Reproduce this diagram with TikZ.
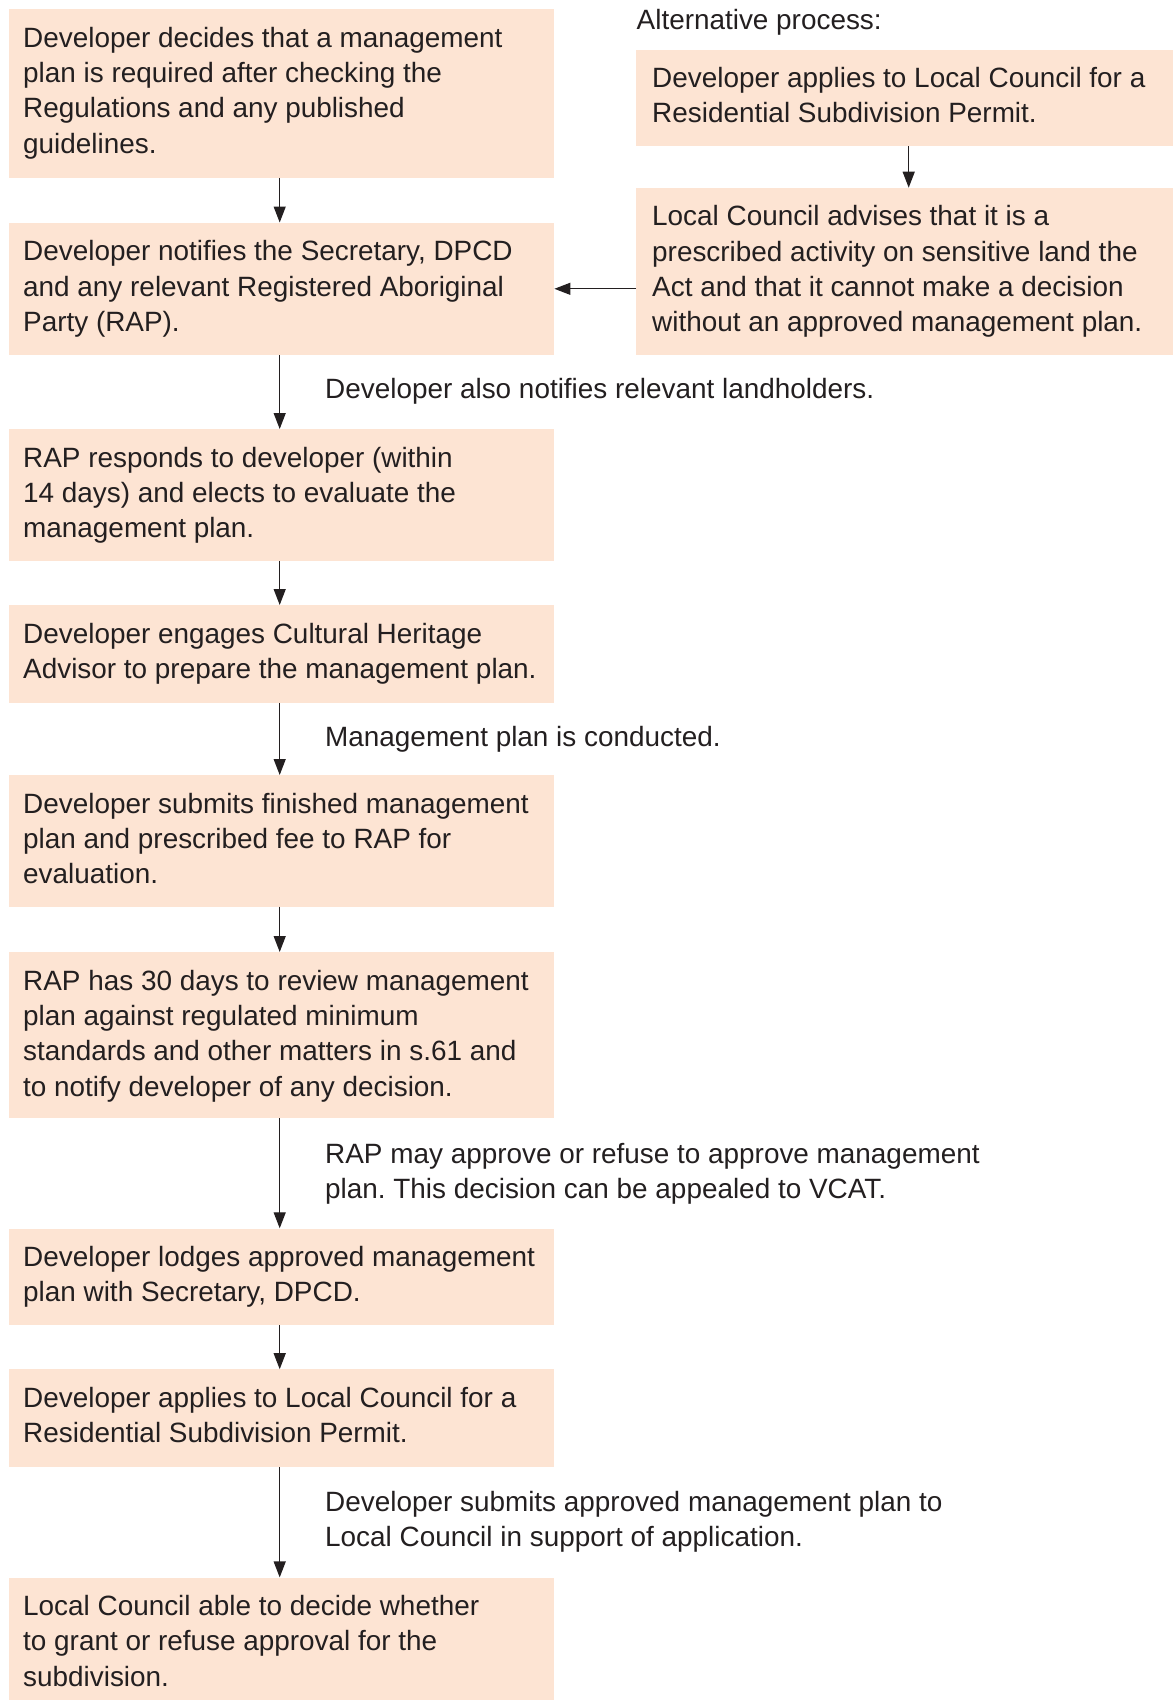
\documentclass[tikz,border=0pt]{standalone}
\usepackage{fontspec}
\setmainfont{Liberation Sans}
\usetikzlibrary{arrows.meta,calc}
\definecolor{peach}{RGB}{253,228,211}
\definecolor{ink}{RGB}{35,31,32}
\newcommand{\mystrut}{\rule{0pt}{24pt}}
\frenchspacing
\begin{document}
\begin{tikzpicture}[x=1pt,y=-1pt,
  box/.style={fill=peach,draw=none,inner sep=0pt,anchor=north west,minimum width=545pt},
  rbox/.style={box,minimum width=537pt},
  txt/.style={anchor=north west,inner sep=0pt,align=left,text=ink,font=\fontsize{27.9}{35.3}\selectfont},
  arr/.style={draw=ink,line width=1.3pt,-{Triangle[length=16pt,width=12pt]}}]
\useasboundingbox (0,0) rectangle (1173,1700);

% left column boxes
\node[box,minimum height=168.5pt] (b1) at (9,9) {};
\node[box,minimum height=132.2pt] (b2) at (9,222.5) {};
\node[box,minimum height=131.5pt] (b3) at (9,429) {};
\node[box,minimum height=97.5pt]  (b4) at (9,605) {};
\node[box,minimum height=131.3pt] (b5) at (9,775) {};
\node[box,minimum height=165.7pt] (b6) at (9,952) {};
\node[box,minimum height=96.5pt]  (b7) at (9,1228.3) {};
\node[box,minimum height=97.6pt]  (b8) at (9,1369.2) {};
\node[box,minimum height=122.6pt] (b9) at (9,1577.4) {};
% right column boxes
\node[rbox,minimum height=96.4pt]  (ba) at (636,49.3) {};
\node[rbox,minimum height=166.9pt] (bb) at (636,187.7) {};

% box texts
\node[txt] (t1) at ($(b1.north west)+(14,14)$) {\mystrut Developer decides that a management\\plan is required after checking the\\Regulations and any published\\guidelines.};
\node[txt] (t2) at ($(b2.north west)+(14,14)$) {\mystrut Developer notifies the Secretary, DPCD\\and any relevant Registered Aboriginal\\Party (RAP).};
\node[txt] (t3) at ($(b3.north west)+(14,14)$) {\mystrut RAP responds to developer (within\\14 days) and elects to evaluate the\\management plan.};
\node[txt] (t4) at ($(b4.north west)+(14,14)$) {\mystrut Developer engages Cultural Heritage\\Advisor to prepare the management plan.};
\node[txt] (t5) at ($(b5.north west)+(14,14)$) {\mystrut Developer submits finished management\\plan and prescribed fee to RAP for\\evaluation.};
\node[txt] (t6) at ($(b6.north west)+(14,14)$) {\mystrut RAP has 30 days to review management\\plan against regulated minimum\\standards and other matters in s.61 and\\to notify developer of any decision.};
\node[txt] (t7) at ($(b7.north west)+(14,14)$) {\mystrut Developer lodges approved management\\plan with Secretary, DPCD.};
\node[txt] (t8) at ($(b8.north west)+(14,14)$) {\mystrut Developer applies to Local Council for a\\Residential Subdivision Permit.};
\node[txt] (t9) at ($(b9.north west)+(14,14)$) {\mystrut Local Council able to decide whether\\to grant or refuse approval for the\\subdivision.};
\node[txt] (ta) at ($(ba.north west)+(16,14)$) {\mystrut Developer applies to Local Council for a\\Residential Subdivision Permit.};
\node[txt] (tb) at ($(bb.north west)+(16,14)$) {\mystrut Local Council advises that it is a\\prescribed activity on sensitive land the\\Act and that it cannot make a decision\\without an approved management plan.};

% free labels
\node[txt] (alt) at (636.5,5.3) {\mystrut Alternative process:};
\node[txt] (l1) at (325,374) {\mystrut Developer also notifies relevant landholders.};
\node[txt] (l2) at (325,722.7) {\mystrut Management plan is conducted.};
\node[txt] (l3) at (325,1139) {\mystrut RAP may approve or refuse to approve management\\plan. This decision can be appealed to VCAT.};
\node[txt] (l4) at (325,1487) {\mystrut Developer submits approved management plan to\\Local Council in support of application.};

% connectors
\draw[arr] ([xshift=-2pt]b1.south) -- ([xshift=-2pt]b2.north);
\draw[arr] ([xshift=-2pt]b2.south) -- ([xshift=-2pt]b3.north);
\draw[arr] ([xshift=-2pt]b3.south) -- ([xshift=-2pt]b4.north);
\draw[arr] ([xshift=-2pt]b4.south) -- ([xshift=-2pt]b5.north);
\draw[arr] ([xshift=-2pt]b5.south) -- ([xshift=-2pt]b6.north);
\draw[arr] ([xshift=-2pt]b6.south) -- ([xshift=-2pt]b7.north);
\draw[arr] ([xshift=-2pt]b7.south) -- ([xshift=-2pt]b8.north);
\draw[arr] ([xshift=-2pt]b8.south) -- ([xshift=-2pt]b9.north);
\draw[arr] ([xshift=4pt]ba.south) -- ([xshift=4pt]bb.north);
\draw[arr] (b2.east -| bb.west) -- (b2.east);
\end{tikzpicture}
\end{document}
